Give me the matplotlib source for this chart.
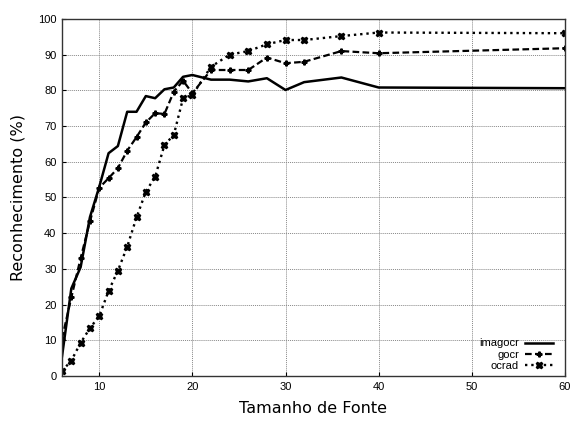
#Reconhecimento vs tamanho de fonte for three OCR engines

import numpy as np
import matplotlib
matplotlib.use('Agg')
import matplotlib.pyplot as plt

sizes=[6,7,8,9,10,11,12,13,14,15,16,17,18,19,20,22,24,26,28,30,32,36,40,60] #font size

imagocr=[5.5,24.5,30.5,44.5,53,62.4,64.4,74,74,78.4,77.8,80.3,80.8,83.8,84.3,83,83,82.5,83.4,80.1,82.3,83.6,80.8,80.6]
gocr=[10.5,22,33,43.3,52.7,55.4,58.2,63.1,66.9,71,73.6,73.4,79.6,82.7,79.2,85.7,85.7,85.7,89.2,87.6,88,91,90.4,91.8]
ocrad=[1.4,4.3,9.3,13.4,16.8,23.8,29.5,36.2,44.4,51.6,55.8,64.7,67.5,77.8,78.7,86.6,90,91,92.9,94.1,94.1,95.2,96.2,96]

xticks=[10,20,30,40,50,60]
yticks=list(range(0,101,10))

fig=plt.figure(figsize=(5.7,4.21),dpi=100)
ax=fig.add_axes([0.1088,0.1069,0.8822,0.8481])

ax.plot(sizes,imagocr,'k-',lw=1.8,label='imagocr')
ax.plot(sizes,gocr,'k--',lw=1.6,dashes=(3,1.5),marker='P',ms=3.5,label='gocr')
ax.plot(sizes,ocrad,'k:',lw=1.7,marker='X',ms=5,label='ocrad')

ax.set_xlim(6,60)
ax.set_ylim(0,100)
ax.set_xticks(xticks)
ax.set_yticks(yticks)
ax.tick_params(direction='in',length=3,labelsize=8,pad=4)
for lab in ax.get_xticklabels()+ax.get_yticklabels():
	lab.set_family('Liberation Sans')
ax.grid(True,color='#888888',ls=(0,(1,1)),lw=0.7)
for sp in ax.spines.values():
	sp.set_linewidth(1.0)
	sp.set_color('#333333')

ax.set_xlabel('Tamanho de Fonte',fontsize=11.5,labelpad=7)
ax.set_ylabel('Reconhecimento (%)',fontsize=11.5,labelpad=9)

leg=ax.legend(loc='lower right',bbox_to_anchor=(0.995,-0.01),frameon=False,markerfirst=False,
	handlelength=2.6,handletextpad=0.5,labelspacing=0.1,borderaxespad=0.4,
	prop={'family':'Liberation Sans','size':8})
for t in leg.get_texts():
	t.set_ha('right')

fig.savefig('out.png',dpi=100)
